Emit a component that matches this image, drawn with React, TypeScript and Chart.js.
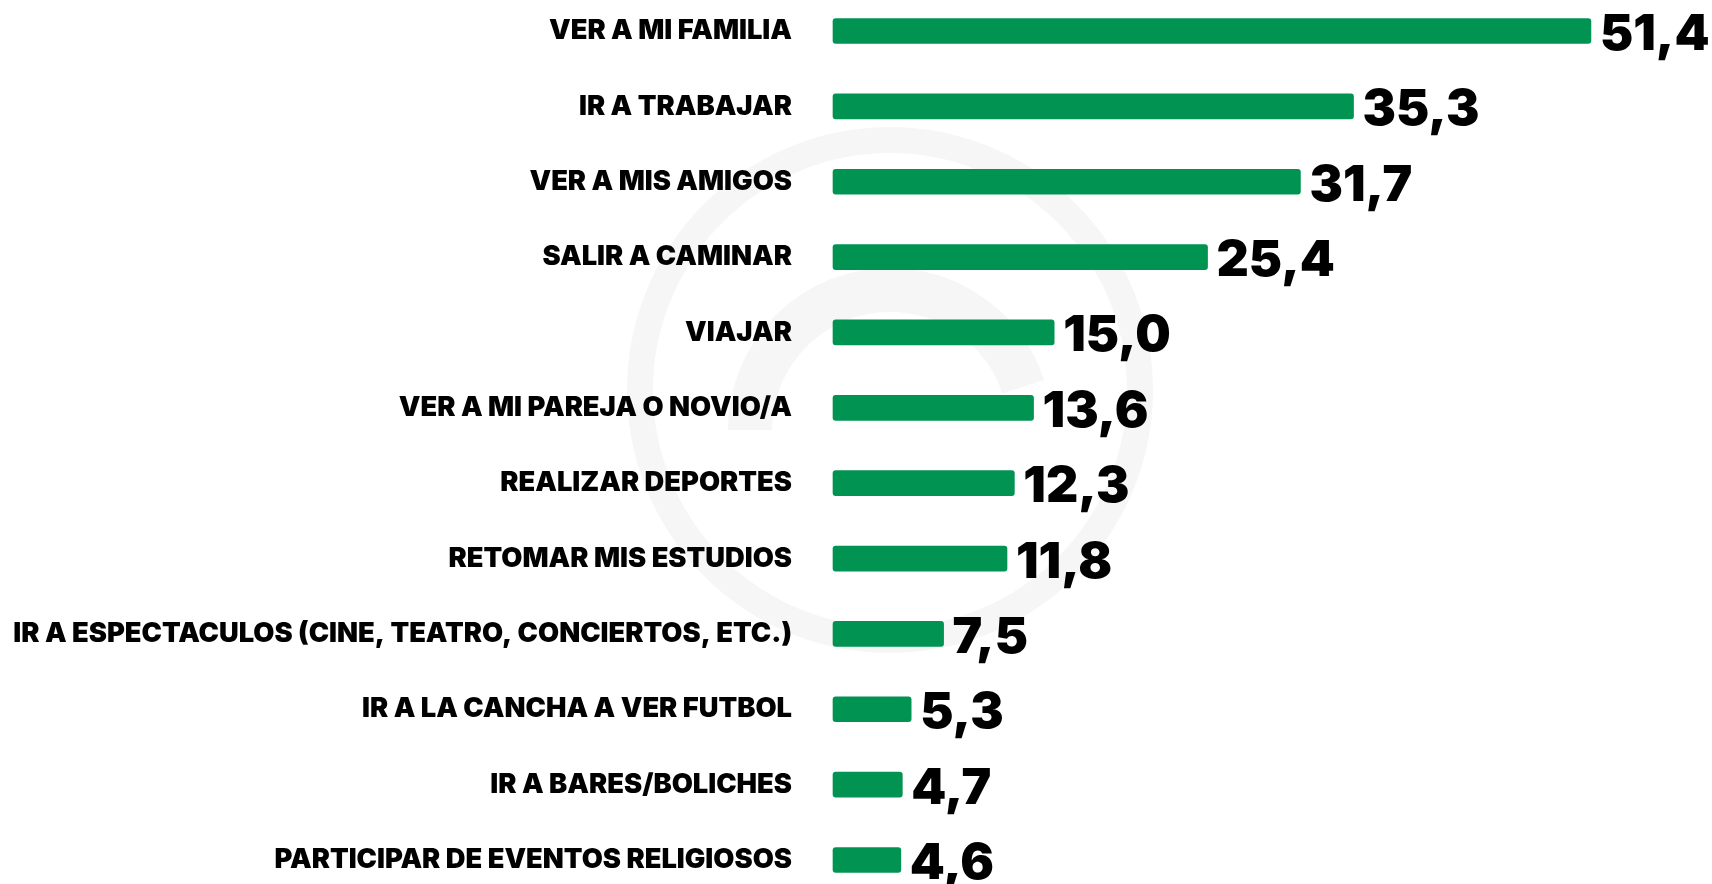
import React, { useEffect, useRef } from "react";
import { Chart, registerables } from "chart.js";

Chart.register(...registerables);

const categories = [
  "VER A MI FAMILIA",
  "IR A TRABAJAR",
  "VER A MIS AMIGOS",
  "SALIR A CAMINAR",
  "VIAJAR",
  "VER A MI PAREJA O NOVIO/A",
  "REALIZAR DEPORTES",
  "RETOMAR MIS ESTUDIOS",
  "IR A ESPECTACULOS (CINE, TEATRO, CONCIERTOS, ETC.)",
  "IR A LA CANCHA A VER FUTBOL",
  "IR A BARES/BOLICHES",
  "PARTICIPAR DE EVENTOS RELIGIOSOS",
];

const values = [51.4, 35.3, 31.7, 25.4, 15.0, 13.6, 12.3, 11.8, 7.5, 5.3, 4.7, 4.6];

const BAR_COLOR = "#009352";
const LABEL_FONT = "Inter";

const watermarkPlugin = {
  id: "watermark",
  beforeDraw(chart: any) {
    const ctx = chart.ctx;
    ctx.save();
    ctx.fillStyle = "#ffffff";
    ctx.fillRect(0, 0, chart.width, chart.height);
    ctx.strokeStyle = "#f6f6f6";
    ctx.lineWidth = 26;
    ctx.beginPath();
    ctx.arc(890, 390, 250, 0, Math.PI * 2);
    ctx.stroke();
    ctx.lineWidth = 44;
    ctx.beginPath();
    ctx.arc(890, 430, 140, Math.PI * 1.0, Math.PI * 1.9);
    ctx.stroke();
    ctx.restore();
  },
};

const valueLabelPlugin = {
  id: "valueLabels",
  afterDatasetsDraw(chart: any) {
    const ctx = chart.ctx;
    const meta = chart.getDatasetMeta(0);
    ctx.save();
    ctx.fillStyle = "#000000";
    ctx.font = `900 50px ${LABEL_FONT}`;
    ctx.textAlign = "left";
    ctx.textBaseline = "middle";
    meta.data.forEach((bar: any, i: number) => {
      const v = values[i];
      ctx.fillText(v.toFixed(1).replace(".", ","), bar.x + 9, bar.y + 4);
    });
    ctx.restore();
  },
};

export default function App() {
  const canvasRef = useRef<HTMLCanvasElement | null>(null);

  useEffect(() => {
    if (!canvasRef.current) return;
    const chart = new Chart(canvasRef.current, {
      type: "bar",
      data: {
        labels: categories,
        datasets: [
          {
            data: values,
            backgroundColor: BAR_COLOR,
            barThickness: 25,
            borderRadius: 3,
            borderSkipped: false,
            clip: false as any,
          },
        ],
      },
      options: {
        indexAxis: "y",
        responsive: false,
        animation: false,
        layout: { padding: { top: 31, bottom: 24, right: 68, left: 0 } },
        plugins: {
          legend: { display: false },
          tooltip: { enabled: false },
        },
        scales: {
          x: {
            display: false,
            min: 0,
            max: 55,
          },
          y: {
            offset: false,
            border: { display: false },
            grid: { display: false, drawTicks: false },
            afterFit(scale: any) {
              scale.width = 833;
              scale.paddingTop = 0;
              scale.paddingBottom = 0;
            },
            ticks: {
              padding: 41,
              color: "#000000",
              font: { family: LABEL_FONT, weight: "900" as any, size: 27.3 },
            },
          },
        },
      },
      plugins: [watermarkPlugin, valueLabelPlugin],
    });
    return () => chart.destroy();
  }, []);

  return (
    <div style={{ position: "fixed", left: 0, top: 0, width: 1712, height: 884, background: "#ffffff" }}>
      <canvas ref={canvasRef} width={1712} height={884} />
    </div>
  );
}
